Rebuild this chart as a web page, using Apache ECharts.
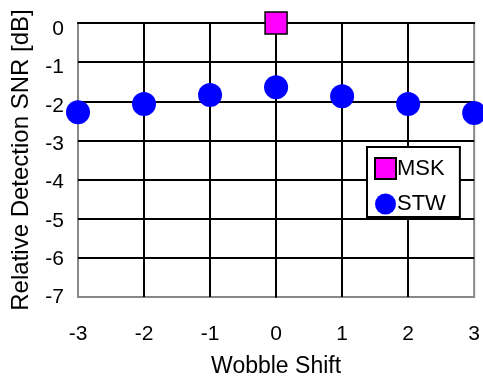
<!DOCTYPE html>
<html>
<head>
<meta charset="utf-8">
<script src="https://cdn.jsdelivr.net/npm/echarts@6/dist/echarts.min.js"></script>
<style>
  html, body { margin: 0; padding: 0; background: #fff; }
  #chart { width: 483px; height: 383px; }
</style>
</head>
<body>
<div id="chart"></div>
<script>
const shifts = [-3, -2, -1, 0, 1, 2, 3]
const stwValues = [-2.28, -2.07, -1.84, -1.64, -1.87, -2.07, -2.3]
const mskShift = [0]
const mskValues = [0]
const yTicks = [-7, -6, -5, -4, -3, -2, -1, 0]

const font = 'Liberation Sans, Arial, sans-serif'
const chart = echarts.init(document.getElementById('chart'))

// y tick labels drift downward toward the top of the axis in the original
const labelRich = {}
yTicks.forEach((t, k) => {
  labelRich['s' + k] = {
    fontFamily: font, fontSize: 21, color: '#000',
    padding: [Math.round(13 * k / 7), 0, 0, 0]
  }
})

const option = {
  animation: false,
  grid: {
    left: 78, right: 8, top: 23, bottom: 83,
    show: true, borderColor: '#888', borderWidth: 2
  },
  xAxis: {
    type: 'value',
    min: -3, max: 3, interval: 1,
    name: 'Wobble Shift',
    nameLocation: 'middle',
    nameGap: 58,
    nameTextStyle: { fontFamily: font, fontSize: 23, color: '#000' },
    axisLine: { lineStyle: { color: '#000', width: 2 } },
    axisTick: { show: false },
    axisLabel: { fontFamily: font, fontSize: 21, color: '#000', margin: 27 },
    splitLine: { showMinLine: false, showMaxLine: false, lineStyle: { color: '#000', width: 2 } }
  },
  yAxis: {
    type: 'value',
    min: yTicks[0], max: yTicks[yTicks.length - 1], interval: 1,
    name: 'Relative Detection SNR [dB]',
    nameLocation: 'middle',
    nameGap: 45,
    nameTextStyle: { fontFamily: font, fontSize: 24, color: '#000' },
    axisLine: { lineStyle: { color: '#000', width: 2 } },
    axisTick: { show: false },
    axisLabel: {
      margin: 14,
      formatter: v => '{s' + yTicks.indexOf(v) + '|' + v + '}',
      rich: labelRich
    },
    splitLine: { showMinLine: false, showMaxLine: false, lineStyle: { color: '#000', width: 2 } }
  },
  legend: {
    left: 367, top: 147,
    orient: 'vertical',
    backgroundColor: '#fff',
    borderColor: '#000',
    borderWidth: 2,
    borderRadius: 0,
    padding: [10, 14, 2, 7],
    itemWidth: 21, itemHeight: 21, itemGap: 13,
    textStyle: { fontFamily: font, fontSize: 22, color: '#000', padding: [0, 0, 0, -4] },
    data: [
      { name: 'MSK', icon: 'rect' },
      { name: 'STW', icon: 'circle' }
    ]
  },
  series: [
    {
      name: 'MSK',
      type: 'scatter',
      symbol: 'rect',
      symbolSize: 22,
      clip: false,
      z: 3,
      itemStyle: { color: '#FF00FF', borderColor: '#000', borderWidth: 1.5, opacity: 1 },
      data: mskShift.map((x, i) => [x, mskValues[i]])
    },
    {
      name: 'STW',
      type: 'scatter',
      symbol: 'circle',
      symbolSize: 24,
      clip: false,
      itemStyle: { color: '#0000FF', opacity: 1 },
      data: shifts.map((x, i) => [x, stwValues[i]])
    }
  ]
}

chart.setOption(option)
</script>
</body>
</html>
